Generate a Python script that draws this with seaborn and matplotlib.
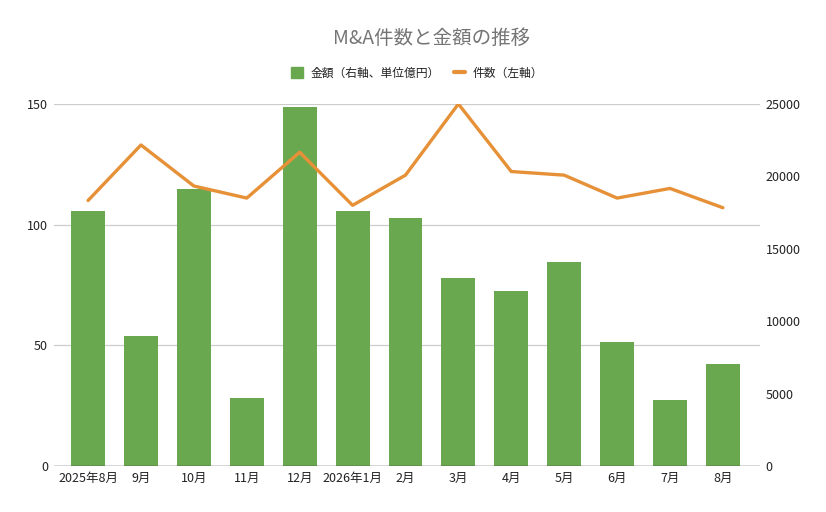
import matplotlib
matplotlib.use("Agg")
import matplotlib.pyplot as plt
import seaborn as sns
import numpy as np
import pandas as pd
from matplotlib.lines import Line2D
from matplotlib.patches import Patch

months = ["2025年8月", "9月", "10月", "11月", "12月", "2026年1月", "2月", "3月", "4月", "5月", "6月", "7月", "8月"]
amount = [17600, 9000, 19100, 4700, 24800, 17600, 17100, 13000, 12100, 14100, 8550, 4550, 7050]
count = [110, 133, 116, 111, 130, 108, 120.5, 150, 122, 120.5, 111, 115, 107]
left_ticks = [0, 50, 100, 150]
right_ticks = [0, 5000, 10000, 15000, 20000, 25000]

sns.set_theme(style="white")
plt.rcParams['font.family'] = ['Noto Sans CJK JP', 'DejaVu Sans']

green = "#6aa84f"
orange = "#e69138"

df = pd.DataFrame({"month": months, "amount": amount, "count": count, "pos": np.arange(len(months))})

fig = plt.figure(figsize=(8.26, 5.12), dpi=100)
ax = fig.add_axes([0.065, 0.0898, 0.855, 0.7072])
ax2 = ax.twinx()

sns.barplot(data=df, x="month", y="amount", color=green, width=0.64, ax=ax2, saturation=1, linewidth=0)
sns.lineplot(data=df, x="pos", y="count", color=orange, linewidth=2.4, ax=ax)

ax.set_zorder(ax2.get_zorder() + 1)
ax.patch.set_visible(False)

ax.set_xlim(-0.65, 12.7)
ax2.set_xlim(-0.65, 12.7)
ax.set_ylim(0, 150)
ax2.set_ylim(0, 25000)
ax.set_yticks(left_ticks)
ax2.set_yticks(right_ticks)
ax.set_xticks(np.arange(len(months)))
ax.set_xticklabels(months)
ax2.set_xlabel("")
ax2.set_ylabel("")
ax.set_xlabel("")
ax.set_ylabel("")

for a in (ax, ax2):
    for s in a.spines.values():
        s.set_visible(False)
    a.tick_params(length=0, labelsize=9, colors="#222222", pad=4)
ax2.tick_params(axis="x", labelbottom=False)

for t in left_ticks[1:]:
    ax2.axhline(t / 150 * 25000, color="#cccccc", linewidth=0.9, zorder=0)
ax2.axhline(0, color="#333333", linewidth=1.0, zorder=3)

fig.text(0.523, 0.925, "M&A件数と金額の推移", ha="center", va="center", fontsize=14, color="#757575")

handles = [Patch(facecolor=green, edgecolor=green),
           Line2D([0], [0], color=orange, linewidth=3)]
labels = ["金額（右軸、単位億円）", "件数（左軸）"]
fig.legend(handles, labels, loc="center", bbox_to_anchor=(0.505, 0.857), ncol=2, frameon=False,
           fontsize=8.5, handlelength=1.0, handleheight=1.0, columnspacing=1.2, handletextpad=0.6,
           labelcolor="#222222")

fig.savefig("out.png", dpi=100)
